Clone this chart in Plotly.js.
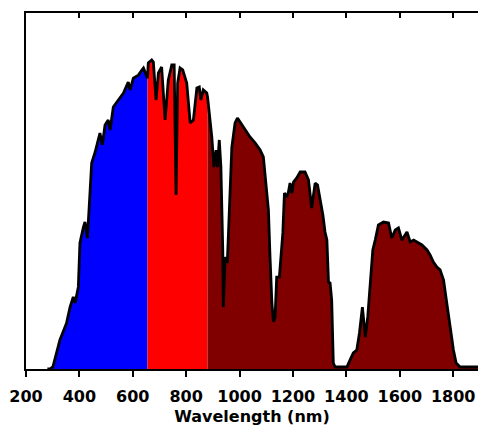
<!DOCTYPE html>
<html>
<head>
<meta charset="utf-8">
<script src="https://cdn.plot.ly/plotly-3.0.1.min.js"></script>
<style>
html,body{margin:0;padding:0;background:#fff;overflow:hidden;}
#chart{width:478px;height:428px;}
</style>
</head>
<body>
<div id="chart"></div>
<script>
// Wavelength (nm) and spectral irradiance
const wavelength = [280, 290, 301, 327, 352, 365, 377, 384, 396, 402, 415, 421, 430, 437, 446, 459, 477, 486, 496, 508, 515, 527, 546, 565, 583, 590, 602, 621, 634, 640, 655,
  658, 671, 677, 687, 696, 708, 721, 733, 746, 755, 762, 768, 777, 787, 802, 815, 827, 840, 849, 855, 864, 877, 880,
  896, 904, 912, 917, 924, 930, 937, 939, 946, 954, 971, 983, 992, 1002, 1021, 1039, 1058, 1077, 1089, 1099, 1108, 1114, 1121, 1127, 1133, 1139, 1149, 1162, 1168, 1177, 1183, 1189, 1196, 1202, 1214, 1227, 1245, 1258, 1270, 1283, 1292, 1302, 1312, 1320, 1327, 1333, 1339, 1345, 1351, 1358,
  1402, 1414, 1426, 1439, 1449, 1460, 1466, 1471, 1480, 1489, 1499, 1508, 1520, 1539, 1558, 1570, 1583, 1595, 1608, 1627, 1639, 1652, 1664, 1683, 1702, 1714, 1726, 1739, 1751, 1764, 1776, 1789, 1801, 1811, 1826, 1893];
const irradiance = [0.0, 0.0, 0.012, 0.147, 0.233, 0.313, 0.364, 0.334, 0.415, 0.637, 0.718, 0.743, 0.662, 0.819, 1.042, 1.097, 1.193, 1.133, 1.234, 1.259, 1.208, 1.325, 1.360, 1.395, 1.451, 1.411, 1.471, 1.486, 1.512, 1.522, 1.470,
  1.547, 1.562, 1.552, 1.360, 1.497, 1.527, 1.259, 1.461, 1.537, 1.537, 0.880, 1.446, 1.522, 1.512, 1.446, 1.244, 1.259, 1.421, 1.426, 1.360, 1.411, 1.395, 1.375,
  1.173, 1.021, 1.107, 1.021, 1.158, 1.021, 0.602, 0.313, 0.566, 0.536, 1.122, 1.244, 1.269, 1.249, 1.208, 1.173, 1.143, 1.107, 1.072, 0.940, 0.804, 0.566, 0.334, 0.238, 0.263, 0.465, 0.465, 0.688, 0.890, 0.870, 0.895, 0.940, 0.890, 0.945, 0.966, 0.996, 0.996, 0.956, 0.814, 0.940, 0.930, 0.854, 0.779, 0.693, 0.652, 0.440, 0.435, 0.349, 0.030, 0.010,
  0.010, 0.046, 0.081, 0.096, 0.182, 0.313, 0.212, 0.162, 0.263, 0.415, 0.602, 0.652, 0.728, 0.743, 0.738, 0.662, 0.703, 0.713, 0.652, 0.693, 0.642, 0.652, 0.642, 0.627, 0.602, 0.576, 0.541, 0.516, 0.501, 0.450, 0.334, 0.212, 0.096, 0.030, 0.010, 0.010];
// Band boundaries (nm)
const bandEdges = [655, 880];
const bandColors = ['#0000ff', '#ff0000', '#800000'];
const tickValues = [200, 400, 600, 800, 1000, 1200, 1400, 1600, 1800];
const tickLabels = ['200', '400', '600', '800', '1000', '1200', '1400', '1600', '1800'];
const xTitle = 'Wavelength (nm)';

function segment(lo, hi) {
  const xs = [], ys = [];
  wavelength.forEach((w, i) => { if (w >= lo && w <= hi) { xs.push(w); ys.push(irradiance[i]); } });
  return {xs, ys};
}
const limits = [[-Infinity, bandEdges[0]], [bandEdges[0], bandEdges[1]], [bandEdges[1], Infinity]];
const traces = limits.map((lim, k) => {
  const s = segment(lim[0], lim[1]);
  return {x: s.xs, y: s.ys, type: 'scatter', mode: 'lines', fill: 'tozeroy',
    fillcolor: bandColors[k], line: {width: 0, color: bandColors[k]}, hoverinfo: 'skip', showlegend: false};
});
traces.push({x: wavelength, y: irradiance, type: 'scatter', mode: 'lines', xaxis: 'x2',
  line: {color: '#000000', width: 2.8}, showlegend: false});

const xr = [200, 1893];
const layout = {
  width: 478, height: 428,
  margin: {l: 26, r: 0, t: 13, b: 59},
  paper_bgcolor: '#ffffff', plot_bgcolor: '#ffffff',
  font: {family: 'DejaVu Sans', color: '#000000'},
  xaxis: {range: xr, tickvals: tickValues, ticktext: tickLabels, ticks: 'outside', ticklen: 6, tickwidth: 2,
    tickcolor: '#000', showline: true, linewidth: 2, linecolor: '#000', showgrid: false, zeroline: false,
    ticklabelstandoff: 6,
    tickfont: {family: 'DejaVu Sans', size: 16, weight: 'bold'},
    title: {text: xTitle, font: {family: 'DejaVu Sans', size: 16, weight: 'bold'}, standoff: 6}},
  xaxis2: {range: xr, overlaying: 'x', side: 'top', anchor: 'y', tickvals: tickValues, showticklabels: false,
    ticks: 'inside', ticklen: 5, tickwidth: 2, tickcolor: '#000', showline: true, linewidth: 2, linecolor: '#000',
    showgrid: false, zeroline: false},
  yaxis: {range: [0, 1.8], showticklabels: false, ticks: '', showline: true, linewidth: 2, linecolor: '#000',
    showgrid: false, zeroline: false}
};
Plotly.newPlot('chart', traces, layout, {staticPlot: true, displayModeBar: false});
</script>
</body>
</html>
